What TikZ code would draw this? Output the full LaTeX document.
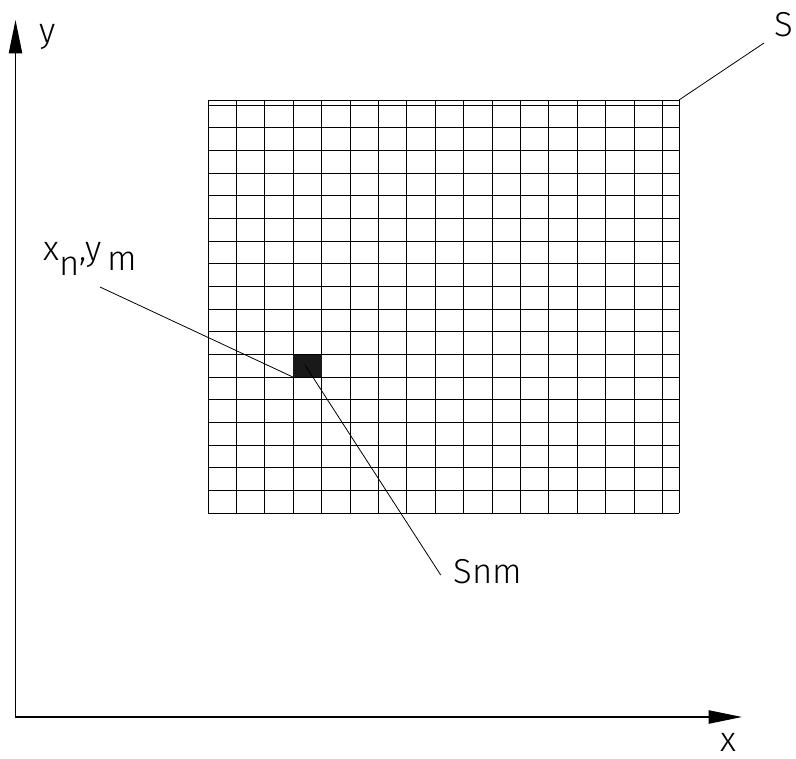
\documentclass[tikz,border=0pt]{standalone}
\usepackage{fontspec}
\setmainfont{Fira Sans}[UprightFont=* Light]
\usetikzlibrary{arrows.meta}
\begin{document}
\begin{tikzpicture}[x=0.75pt,y=-0.75pt,
  gridline/.style={line width=0.6pt},
  leader/.style={line width=0.6pt},
  axis/.style={line width=0.9pt,{Triangle[length=25pt,width=10pt]}-{Triangle[length=25pt,width=10pt]}},
  lbl/.style={inner sep=0pt,font=\fontsize{26}{30}\selectfont}]
\useasboundingbox (0,0) rectangle (796,759);
% axes
\coordinate (O) at (15.5,717);
\coordinate (ytip) at (15.5,20);
\coordinate (xtip) at (742,717);
\draw[axis] (ytip) -- (O) -- (xtip);
\node[lbl] (ylab) at (48,37) {y};
\node[lbl] (xlab) at (728,742) {x};
% grid
\foreach \k in {0,...,16}
  \draw[gridline] (208+28.4*\k,100) -- (208+28.4*\k,513.2);
\draw[gridline] (679,100) -- (679,513.2);
\draw[gridline] (208,100) -- (679,100);
\foreach \j in {0,...,18}
  \draw[gridline] (208,105+22.68*\j) -- (679,105+22.68*\j);
\coordinate (Scorner) at (679,100);
% element
\fill[black!90] (293.2,354.5) rectangle (321.6,377.2);
\coordinate (elemBL) at (293.2,377.2);
\coordinate (elemC) at (305,365);
% labels and leaders
\node[lbl] (Slab) at (784,25) {S};
\coordinate (Send) at (764,43);
\draw[leader] (Scorner) -- (Send);
\node[lbl,anchor=west] (xylab) at (43,259) {x\raisebox{-0.45em}{n},y\,\raisebox{-0.3em}{m}};
\coordinate (xyend) at (100,287);
\draw[leader] (xyend) -- (elemBL);
\node[lbl] (Snmlab) at (488,571.5) {Snm};
\coordinate (Snmend) at (440.7,575);
\draw[leader] (elemC) -- (Snmend);
\end{tikzpicture}
\end{document}
